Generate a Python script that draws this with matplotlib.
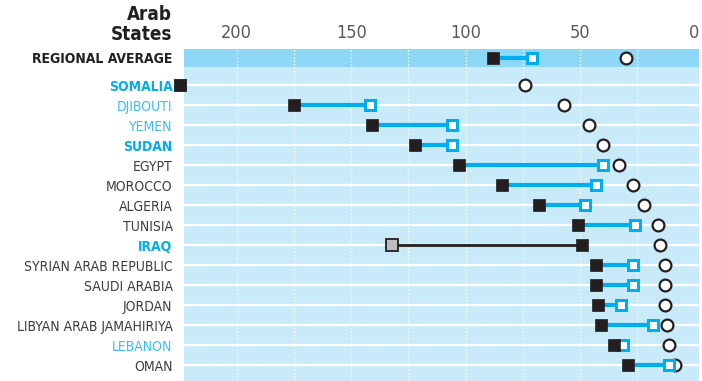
import matplotlib
matplotlib.use("Agg")
import matplotlib.pyplot as plt

plt.rcParams['font.family'] = ['DejaVu Sans']
plt.rcParams['font.stretch'] = 'condensed'

# Under-five mortality per 1,000 live births
countries = ['SOMALIA', 'DJIBOUTI', 'YEMEN', 'SUDAN', 'EGYPT', 'MOROCCO', 'ALGERIA',
             'TUNISIA', 'IRAQ', 'SYRIAN ARAB REPUBLIC', 'SAUDI ARABIA', 'JORDAN',
             'LIBYAN ARAB JAMAHIRIYA', 'LEBANON', 'OMAN']
rate_1990 = [225, 175, 141, 122, 103, 84, 68, 51, 49, 43, 43, 42, 41, 35, 29]
rate_latest = [225, 142, 106, 106, 40, 43, 48, 26, 132, 27, 27, 32, 18, 31, 11]
rate_target = [74, 57, 46, 40, 33, 27, 22, 16, 15, 13, 13, 13, 12, 11, 8.5]

region_label = 'REGIONAL AVERAGE'
region_1990 = 88
region_latest = 71
region_target = 30

# label styling groups
highlight_bold = ['SOMALIA', 'SUDAN', 'IRAQ']
highlight_light = ['DJIBOUTI', 'YEMEN', 'LEBANON']
worsened = ['IRAQ']

BLUE = '#00aeef'
BLACK = '#231f20'
GREY = '#bcbec0'
TEXT = '#3c3c3c'
PANEL = '#c9eaf9'
BAND = '#8fd7f7'

fig = plt.figure(figsize=(7.02, 3.81), dpi=100)
ax = fig.add_axes([183.7 / 702, 0, (699 - 183.7) / 702, 1 - 49.3 / 381])

ys = list(range(len(countries)))
y_reg = -1.375
y_top, y_split, y_bottom = -1.81, -0.94, 14.78

ax.axhspan(y_split, y_bottom, color=PANEL, lw=0, zorder=0)
ax.axhspan(y_top, y_split, color=BAND, lw=0, zorder=0)
for y in ys:
    ax.axhline(y, color='white', lw=1.6, zorder=1)
for gx in range(25, 225, 25):
    ax.axvline(gx, color='white', lw=1.0, ls=(0, (1, 1.5)), zorder=1)


def dumbbell(y, a, b, c, bad=False):
    ax.plot([c], [y], 'o', ms=8.5, mfc='white', mec=BLACK, mew=1.6, zorder=3)
    if bad:
        ax.plot([a, b], [y, y], color=BLACK, lw=2.0, zorder=4)
        ax.plot([b], [y], 's', ms=8, mfc=GREY, mec=BLACK, mew=1.3, zorder=5)
    else:
        ax.plot([a, b], [y, y], color=BLUE, lw=3.0, zorder=4)
        ax.plot([b], [y], 's', ms=7.6, mfc='white', mec=BLUE, mew=2.2, zorder=5,
                clip_on=False)
    ax.plot([a], [y], 's', ms=8.0, mfc=BLACK, mec=BLACK, mew=0.5, zorder=6,
            clip_on=False)


dumbbell(y_reg, region_1990, region_latest, region_target)
for y, name, a, b, c in zip(ys, countries, rate_1990, rate_latest, rate_target):
    dumbbell(y, a, b, c, bad=name in worsened)

ax.set_xlim(223.2, -2)
ax.set_ylim(y_bottom, y_top)

ax.xaxis.tick_top()
ax.set_xticks([200, 150, 100, 50, 0])
ax.tick_params(axis='x', length=0, pad=5, labelsize=13, labelcolor='#58595b')
ax.set_yticks([y_reg] + ys)
ax.set_yticklabels([region_label] + countries)
ax.tick_params(axis='y', length=0, pad=8, labelsize=10)
for lab in ax.get_yticklabels():
    name = lab.get_text()
    if name == region_label:
        lab.set_fontweight('bold')
        lab.set_color('#231f20')
    elif name in highlight_bold:
        lab.set_fontweight('bold')
        lab.set_color(BLUE)
    elif name in highlight_light:
        lab.set_color('#3bbdf0')
    else:
        lab.set_color(TEXT)
for s in ax.spines.values():
    s.set_visible(False)

fig.text(172 / 702, 1 - 14 / 381, 'Arab', ha='right', va='center',
         fontsize=13.5, fontweight='bold', color=BLACK)
fig.text(172 / 702, 1 - 35 / 381, 'States', ha='right', va='center',
         fontsize=13.5, fontweight='bold', color=BLACK)

fig.savefig('out.png', dpi=100)
